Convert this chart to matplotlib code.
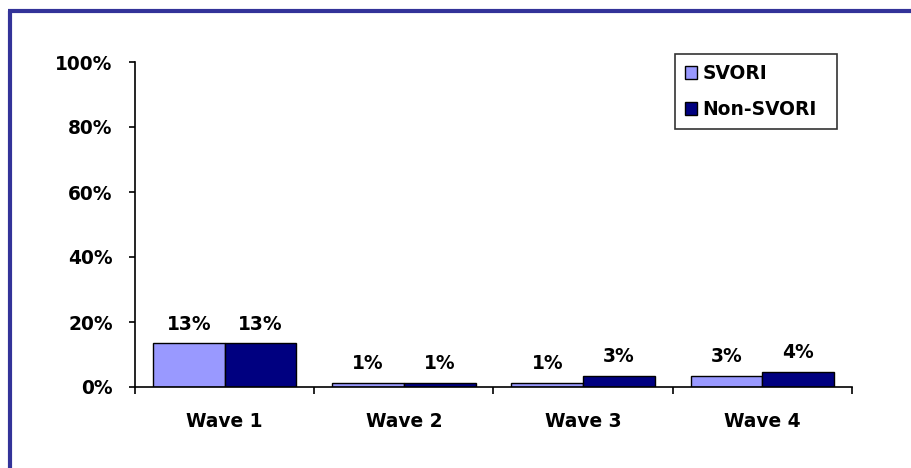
import matplotlib.pyplot as plt
import numpy as np
from matplotlib.lines import Line2D

# values
waves = ['Wave 1', 'Wave 2', 'Wave 3', 'Wave 4']
svori = [13.4, 1.3, 1.3, 3.4]
non_svori = [13.4, 1.3, 3.4, 4.5]
svori_labels = ['13%', '1%', '1%', '3%']
non_svori_labels = ['13%', '1%', '3%', '4%']
yticks = [0, 20, 40, 60, 80, 100]

plt.rcParams['font.family'] = 'DejaVu Sans'
plt.rcParams['font.weight'] = 'bold'
fs = 13.4

W, H = 912, 468
fig = plt.figure(figsize=(W / 100, H / 100), dpi=100)
ax = fig.add_axes([135 / W, (H - 387) / H, (852 - 135) / W, (387 - 62) / H])

x = np.arange(len(waves))
bw = 0.4
b1 = ax.bar(x - bw / 2, svori, bw, color='#9999FF', edgecolor='black', linewidth=1, label='SVORI')
b2 = ax.bar(x + bw / 2, non_svori, bw, color='#000080', edgecolor='black', linewidth=1, label='Non-SVORI')

for bars, labels in [(b1, svori_labels), (b2, non_svori_labels)]:
    for rect, lab in zip(bars, labels):
        ax.annotate(lab, (rect.get_x() + rect.get_width() / 2, rect.get_height()),
                    xytext=(0, 14.0), textcoords='offset points',
                    ha='center', va='center', fontsize=fs, fontweight='bold')

ax.set_xlim(-0.5, len(waves) - 0.5)
ax.set_ylim(0, 100)
ax.set_yticks(yticks)
ax.set_yticklabels([f'{v}%' for v in yticks], fontsize=fs, fontweight='bold')
ax.set_xticks(x)
ax.set_xticklabels(waves, fontsize=fs, fontweight='bold')
ax.set_xticks(np.arange(-0.5, len(waves)), minor=True)
ax.tick_params(axis='x', which='major', length=0, pad=18)
ax.tick_params(axis='x', which='minor', length=5, width=1.2, direction='out')
ax.tick_params(axis='y', length=4, width=1.2, direction='out', pad=12)

for s in ['top', 'right']:
    ax.spines[s].set_visible(False)
ax.spines['left'].set_linewidth(1.2)
ax.spines['bottom'].set_linewidth(1.2)

leg = fig.legend(loc='upper left', bbox_to_anchor=(675 / W, (H - 128) / H, 162 / W, 74 / H),
                 mode='expand', fontsize=fs, frameon=True, fancybox=False, edgecolor='black',
                 handlelength=0.65, handleheight=0.65, handletextpad=0.27,
                 labelspacing=0.9, borderpad=0.55, borderaxespad=0)
leg.get_frame().set_linewidth(1.2)

# blue frame around the chart (only top and left edges show)
frame_c = '#333399'
fig.add_artist(Line2D([10 / W, 10 / W], [0, (H - 11) / H], color=frame_c, lw=3,
                      solid_capstyle='butt', transform=fig.transFigure))
fig.add_artist(Line2D([8 / W, 1], [(H - 11) / H, (H - 11) / H], color=frame_c, lw=3,
                      solid_capstyle='butt', transform=fig.transFigure))

fig.savefig('out.png', dpi=100)
